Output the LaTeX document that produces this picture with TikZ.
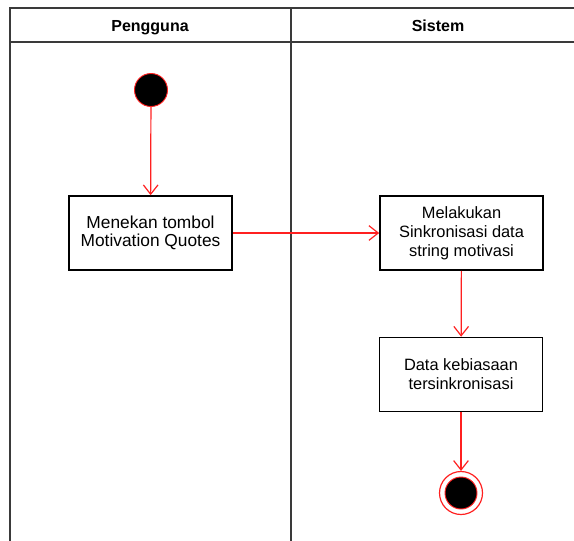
\documentclass[tikz,border=0pt]{standalone}
\usepackage{fontspec}
\setmainfont{Liberation Sans}
\usetikzlibrary{arrows.meta}
\definecolor{lane}{HTML}{3A3A3A}
\definecolor{flowred}{HTML}{FF2020}
\begin{document}
\begin{tikzpicture}[x=0.75pt,y=-0.75pt,
  lanebar/.style={draw=lane,line width=1.5pt},
  action/.style={draw=black,line width=1.2pt,fill=white,minimum width=163*0.75pt,minimum height=74*0.75pt,inner sep=0pt,align=center},
  flow/.style={draw=flowred,line width=0.9pt,-{Straight Barb[length=7pt,width=11pt,line width=0.9pt]}},
  head/.style={font=\bfseries\fontsize{12}{14}\selectfont,anchor=base}]
\useasboundingbox (0,0) rectangle (574,540);
% swimlane frame
\draw[lanebar] (574,8) -- (9.5,8) -- (9.5,545);
\draw[lanebar] (9.5,42) -- (574,42);
\draw[lanebar] (290.5,8) -- (290.5,545);
\node[head] (lane1) at (150,31) {Pengguna};
\node[head] (lane2) at (438,31) {Sistem};
% start node
\node[circle,fill=black,draw=flowred,line width=0.7pt,minimum size=33*0.75pt,inner sep=0pt] (start) at (151,90) {};
% actions
\node[action,font=\fontsize{13}{13.8}\selectfont] (a1) at (150.5,233) {Menekan tombol\\Motivation Quotes};
\node[action,font=\fontsize{12.3}{14.2}\selectfont] (a2) at (461.5,233) {Melakukan\\Sinkronisasi data\\string motivasi};
\node[action,font=\fontsize{12.3}{14.4}\selectfont] (a3) at (461,374.5) {Data kebiasaan\\tersinkronisasi};
% end node
\node[circle,draw=flowred,line width=0.9pt,minimum size=43*0.75pt,inner sep=0pt] (stop) at (461,493) {};
\node[circle,fill=black,draw=flowred,line width=0.7pt,minimum size=32*0.75pt,inner sep=0pt] (stopin) at (461,493) {};
% transitions
\draw[flow] (start) -- (a1);
\draw[flow] (a1) -- (a2);
\draw[flow] (a2) -- (a3);
\draw[flow] (a3) -- (stop);
\end{tikzpicture}
\end{document}
